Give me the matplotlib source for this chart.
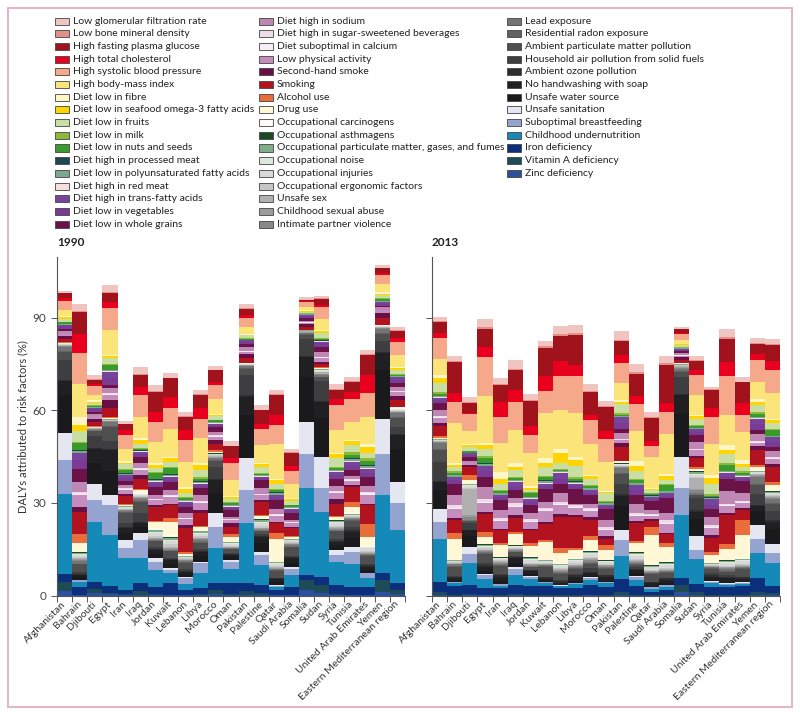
import numpy as np
import matplotlib.pyplot as plt
from matplotlib.patches import Rectangle

plt.rcParams["font.family"] = ["Lato", "DejaVu Sans"]

countries = ["Afghanistan", "Bahrain", "Djibouti", "Egypt", "Iran", "Iraq", "Jordan",
             "Kuwait", "Lebanon", "Libya", "Morocco", "Oman", "Pakistan", "Palestine",
             "Qatar", "Saudi Arabia", "Somalia", "Sudan", "Syria", "Tunisia",
             "United Arab Emirates", "Yemen", "Eastern Mediterranean region"]

# stacking order, bottom -> top
risks = ["Zinc deficiency", "Vitamin A deficiency", "Iron deficiency",
         "Childhood undernutrition", "Suboptimal breastfeeding",
         "Unsafe sanitation", "Unsafe water source", "No handwashing with soap",
         "Ambient ozone pollution", "Household air pollution from solid fuels",
         "Ambient particulate matter pollution", "Residential radon exposure", "Lead exposure",
         "Intimate partner violence", "Childhood sexual abuse", "Unsafe sex",
         "Occupational ergonomic factors", "Occupational injuries", "Occupational noise",
         "Occupational particulate matter, gases, and fumes", "Occupational asthmagens",
         "Occupational carcinogens",
         "Drug use", "Alcohol use", "Smoking", "Second-hand smoke",
         "Low physical activity", "Diet suboptimal in calcium",
         "Diet high in sugar-sweetened beverages", "Diet high in sodium",
         "Diet low in whole grains", "Diet low in vegetables", "Diet high in trans-fatty acids",
         "Diet high in red meat", "Diet low in polyunsaturated fatty acids",
         "Diet high in processed meat", "Diet low in nuts and seeds", "Diet low in milk",
         "Diet low in fruits", "Diet low in seafood omega-3 fatty acids", "Diet low in fibre",
         "High body-mass index", "High systolic blood pressure", "High total cholesterol",
         "High fasting plasma glucose", "Low bone mineral density",
         "Low glomerular filtration rate"]

colors = ["#2c4f9e", "#1d4b57", "#0b2f7a", "#1589b8", "#94a3d0",
          "#e4e6f2", "#1a1a1c", "#202022",
          "#2e2e30", "#3e3e40", "#4f4f50", "#616161", "#747474",
          "#888888", "#9c9c9c", "#b0b0b0", "#c6c6c6", "#d8d8d8", "#dde9dd",
          "#7fae86", "#1c4a24", "#fcfcf4",
          "#fff7d6", "#ea6e3c", "#b3121f", "#680f45",
          "#c58dbd", "#f6f0f6", "#f0dce8", "#bf88b4", "#6b1247", "#7a3b94", "#76459b",
          "#f9dfdc", "#7aa98c", "#1f4753", "#3b9a2c", "#8db93a", "#c8dea2", "#ffd400",
          "#fff6c8",
          "#fbe57a", "#f6a98a", "#e8001e", "#a0121c", "#e3908a", "#f0c4c0"]

# ---------------- 1990 (rows = countries, columns = risks in group, bottom -> top)
child_1990 = [
    [1.5, 3.0, 2.5, 26.0, 10.8], [0.1, 0.2, 2.6, 1.6, 0.5], [0.8, 1.3, 2.4, 19.4, 7.2],
    [0.5, 0.5, 2.0, 16.6, 9.7], [0.2, 0.3, 1.3, 10.3, 3.2], [0.3, 1.2, 2.5, 8.1, 5.9],
    [0.2, 0.2, 2.5, 5.4, 2.7], [0.1, 0.1, 3.8, 3.2, 1.1], [0.1, 0.1, 1.6, 1.9, 1.9],
    [0.1, 0.3, 2.0, 4.8, 3.3], [0.5, 1.2, 2.5, 11.1, 7.0], [0.2, 0.3, 3.5, 4.8, 2.2],
    [0.3, 1.1, 2.6, 19.4, 10.8], [0.3, 0.6, 2.5, 6.5, 3.2], [0.1, 0.1, 1.6, 0.9, 0.5],
    [0.1, 0.2, 2.6, 3.8, 2.1], [1.8, 3.3, 1.6, 28.3, 11.0], [0.8, 2.6, 2.7, 21.1, 7.5],
    [0.2, 0.3, 2.9, 7.6, 2.1], [0.1, 0.2, 2.6, 7.5, 3.8], [0.1, 0.1, 2.7, 2.7, 1.6],
    [1.3, 3.8, 2.1, 25.3, 13.3], [0.7, 1.2, 2.1, 17.2, 8.7]]
wash_1990 = [
    [9.0, 12.0, 4.8], [0.2, 0.8, 0.8], [5.2, 6.8, 4.5], [3.2, 8.0, 6.6], [2.7, 2.2, 1.6],
    [2.2, 2.0, 1.2], [1.1, 1.5, 1.2], [0.8, 1.2, 1.2], [0.5, 1.0, 0.7], [0.5, 1.8, 1.4],
    [4.3, 6.5, 4.3], [0.5, 0.9, 0.7], [10.2, 14.0, 5.9], [1.1, 3.0, 1.9], [0.2, 0.9, 1.0],
    [0.4, 1.5, 1.4], [10.3, 14.5, 6.5], [10.2, 12.5, 5.3], [1.6, 1.6, 1.1], [1.6, 2.9, 2.0],
    [0.3, 0.8, 1.1], [11.5, 15.6, 5.6], [7.0, 10.5, 4.6]]
air_1990 = [
    [0.3, 6.5, 2.5, 0.2, 1.5], [0.3, 0.5, 2.5, 0.2, 0.8], [0.2, 4.0, 1.5, 0.1, 0.2],
    [0.5, 2.5, 4.5, 0.3, 1.4], [0.3, 1.5, 3.2, 0.2, 0.5], [0.4, 3.0, 3.5, 0.3, 0.8],
    [0.3, 0.8, 1.8, 0.1, 0.2], [0.4, 0.2, 2.3, 0.2, 0.2], [0.3, 0.6, 1.8, 0.3, 0.4],
    [0.3, 0.5, 2.2, 0.3, 0.5], [0.4, 4.0, 1.8, 0.3, 0.5], [0.3, 0.3, 1.3, 0.1, 0.2],
    [0.5, 6.5, 2.2, 0.2, 0.6], [0.3, 0.6, 0.9, 0.1, 0.2], [0.3, 0.2, 2.2, 0.2, 0.3],
    [0.3, 0.3, 3.0, 0.2, 0.5], [0.3, 5.4, 1.5, 0.1, 0.3], [0.4, 6.5, 1.2, 0.1, 0.4],
    [0.4, 0.6, 2.4, 0.2, 0.4], [0.4, 1.2, 1.8, 0.3, 0.5], [0.4, 0.3, 2.8, 0.2, 0.3],
    [0.4, 3.4, 2.4, 0.3, 1.3], [0.4, 2.3, 2.8, 0.2, 1.4]]
occ_1990 = [
    [0.2, 0.1, 0.2, 0.1, 0.15, 0.05, 0.1, 0.03, 0.07],
    [0.4, 0.3, 0.3, 0.5, 0.6, 0.3, 0.4, 0.1, 0.3],
    [0.2, 0.1, 0.3, 0.1, 0.1, 0.05, 0.1, 0.02, 0.03],
    [0.1, 0.1, 0.1, 0.15, 0.2, 0.05, 0.15, 0.05, 0.1],
    [0.1, 0.2, 0.1, 0.2, 0.5, 0.1, 0.2, 0.05, 0.15],
    [0.2, 0.2, 0.2, 0.3, 0.4, 0.1, 0.2, 0.05, 0.05],
    [0.3, 0.3, 0.2, 0.6, 0.8, 0.3, 0.6, 0.2, 0.5],
    [0.3, 0.4, 0.3, 0.8, 1.0, 0.4, 0.8, 0.3, 0.5],
    [0.2, 0.2, 0.2, 0.3, 0.4, 0.1, 0.3, 0.05, 0.15],
    [0.3, 0.3, 0.2, 0.5, 0.8, 0.2, 0.5, 0.1, 0.3],
    [0.3, 0.2, 0.2, 0.3, 0.3, 0.1, 0.2, 0.05, 0.15],
    [0.2, 0.2, 0.2, 0.3, 0.6, 0.2, 0.3, 0.1, 0.1],
    [0.1, 0.1, 0.1, 0.1, 0.2, 0.05, 0.1, 0.02, 0.03],
    [0.3, 0.3, 0.2, 0.6, 1.0, 0.3, 0.6, 0.2, 0.3],
    [0.2, 0.3, 0.2, 0.4, 0.7, 0.2, 0.3, 0.1, 0.1],
    [0.2, 0.2, 0.2, 0.3, 0.6, 0.2, 0.2, 0.1, 0.1],
    [0.2, 0.1, 0.3, 0.1, 0.1, 0.05, 0.1, 0.02, 0.03],
    [0.3, 0.2, 0.5, 0.2, 0.3, 0.1, 0.3, 0.1, 0.2],
    [0.3, 0.3, 0.2, 0.5, 0.8, 0.3, 0.5, 0.1, 0.2],
    [0.2, 0.2, 0.1, 0.3, 0.4, 0.1, 0.2, 0.1, 0.1],
    [0.2, 0.3, 0.3, 0.4, 0.8, 0.2, 0.2, 0.1, 0.1],
    [0.2, 0.1, 0.3, 0.1, 0.2, 0.05, 0.1, 0.02, 0.03],
    [0.2, 0.2, 0.2, 0.2, 0.3, 0.1, 0.2, 0.05, 0.05]]
behav_1990 = [
    [0.3, 0.1, 1.2, 0.8], [2.7, 3.0, 7.2, 1.5], [0.1, 0.1, 1.4, 1.1], [0.2, 0.2, 2.9, 2.7],
    [0.4, 0.3, 2.4, 0.6], [1.0, 0.3, 3.5, 1.1], [2.0, 0.3, 4.6, 0.6], [4.3, 1.1, 4.3, 0.5],
    [0.3, 0.8, 7.6, 1.0], [1.0, 0.5, 3.9, 1.1], [0.3, 0.6, 2.1, 1.1], [1.6, 0.8, 2.4, 1.1],
    [0.1, 0.1, 1.6, 1.4], [0.9, 0.2, 4.3, 0.5], [7.5, 1.7, 3.3, 0.4], [0.4, 0.4, 2.5, 0.5],
    [0.1, 0.1, 1.0, 0.8], [0.2, 0.3, 1.1, 0.6], [0.8, 0.4, 3.8, 1.6], [2.2, 1.6, 4.8, 0.5],
    [3.0, 4.3, 5.9, 0.5], [0.2, 0.1, 2.3, 1.6], [0.3, 0.2, 2.1, 1.4]]
diet_1990 = [
    [0.6, 0.1, 0.1, 0.8, 0.8, 0.8, 0.4, 0.1, 0.3, 0.05, 0.4, 0.2, 1.0, 0.4, 0.5],
    [4.0, 0.2, 0.5, 3.5, 4.0, 3.0, 2.2, 0.2, 0.5, 0.2, 2.5, 0.3, 3.5, 2.0, 2.5],
    [0.8, 0.1, 0.1, 0.6, 0.7, 0.8, 0.3, 0.05, 0.2, 0.05, 0.5, 0.1, 0.9, 0.3, 0.4],
    [1.8, 0.2, 0.3, 1.5, 1.2, 2.2, 2.0, 0.1, 0.3, 0.1, 1.6, 0.3, 1.9, 0.9, 0.3],
    [1.5, 0.2, 0.2, 1.2, 1.3, 1.0, 0.8, 0.2, 0.3, 0.1, 1.1, 0.3, 1.5, 0.6, 0.6],
    [1.8, 0.2, 0.3, 1.5, 2.1, 1.0, 0.7, 0.1, 0.2, 0.1, 0.6, 0.3, 1.3, 1.2, 0.5],
    [1.6, 0.2, 0.3, 1.1, 2.7, 1.0, 0.7, 0.2, 0.4, 0.2, 1.9, 0.3, 1.3, 1.1, 0.5],
    [2.2, 0.3, 0.4, 1.6, 2.4, 0.9, 0.9, 0.2, 0.5, 0.2, 1.8, 0.3, 1.8, 1.2, 0.4],
    [2.0, 0.2, 0.2, 1.4, 2.2, 1.0, 0.6, 0.2, 0.3, 0.1, 0.5, 0.3, 1.3, 1.5, 0.6],
    [2.3, 0.2, 0.4, 1.9, 2.2, 0.9, 0.7, 0.2, 0.4, 0.2, 0.8, 0.4, 2.3, 1.6, 0.6],
    [1.2, 0.2, 0.2, 1.1, 1.6, 0.7, 0.4, 0.1, 0.3, 0.1, 0.6, 0.2, 1.1, 0.5, 0.3],
    [1.0, 0.2, 0.2, 0.7, 2.2, 0.6, 0.5, 0.1, 0.3, 0.1, 0.8, 0.2, 0.9, 0.7, 0.3],
    [0.7, 0.1, 0.1, 1.3, 0.8, 0.8, 0.5, 0.05, 0.15, 0.05, 0.35, 0.1, 0.9, 0.3, 0.3],
    [1.6, 0.2, 0.3, 1.7, 2.7, 0.6, 0.5, 0.1, 0.3, 0.1, 0.5, 0.3, 1.7, 1.0, 0.3],
    [2.0, 0.2, 0.4, 1.7, 2.7, 0.8, 0.8, 0.2, 0.5, 0.2, 0.8, 0.3, 1.8, 1.2, 0.4],
    [1.2, 0.2, 0.2, 0.6, 2.3, 0.7, 0.7, 0.1, 0.3, 0.1, 0.6, 0.2, 1.2, 0.6, 0.2],
    [0.5, 0.1, 0.1, 0.4, 0.9, 0.7, 0.3, 0.05, 0.1, 0.05, 0.2, 0.1, 0.5, 0.2, 0.2],
    [1.2, 0.2, 0.2, 1.6, 1.6, 1.2, 0.5, 0.1, 0.2, 0.1, 0.5, 0.3, 1.6, 0.6, 0.4],
    [2.0, 0.3, 0.3, 1.7, 2.2, 1.2, 1.2, 0.2, 0.4, 0.1, 0.6, 0.4, 2.8, 1.2, 0.5],
    [1.5, 0.3, 0.3, 1.0, 1.8, 1.5, 1.3, 0.3, 0.5, 0.2, 1.2, 1.0, 2.1, 1.2, 0.4],
    [3.0, 0.4, 0.6, 1.7, 3.0, 1.2, 1.4, 0.3, 0.7, 0.3, 1.4, 0.7, 1.8, 2.0, 1.0],
    [0.8, 0.1, 0.1, 0.9, 0.4, 0.6, 0.6, 0.05, 0.15, 0.05, 0.8, 0.2, 0.8, 0.6, 0.5],
    [1.2, 0.2, 0.2, 1.2, 1.3, 1.0, 1.0, 0.1, 0.2, 0.05, 0.5, 0.2, 1.2, 0.7, 0.3]]
metab_1990 = [
    [2.0, 2.9, 0.8, 1.6, 0.2, 0.5], [10.8, 9.9, 6.2, 7.0, 0.3, 2.3], [1.8, 2.7, 0.7, 1.5, 0.2, 1.2],
    [8.0, 7.0, 1.9, 3.1, 0.3, 2.3], [3.9, 4.3, 1.8, 1.7, 0.2, 1.0], [7.0, 7.0, 2.7, 3.7, 0.3, 2.4],
    [7.0, 6.5, 3.2, 6.5, 0.3, 1.8], [9.2, 6.5, 3.7, 6.0, 0.3, 1.5], [8.1, 7.0, 3.3, 4.3, 0.3, 1.3],
    [8.1, 6.4, 3.3, 4.3, 0.3, 1.3], [4.9, 4.3, 1.1, 3.7, 0.2, 1.1], [5.4, 5.2, 1.6, 4.0, 0.2, 1.5],
    [2.1, 3.0, 0.8, 2.2, 0.2, 1.2], [5.9, 5.4, 1.6, 4.3, 0.2, 1.4], [11.3, 6.0, 3.2, 6.7, 0.2, 1.4],
    [4.6, 4.3, 1.5, 4.3, 0.2, 1.2], [1.0, 1.8, 0.2, 0.4, 0.1, 0.9], [3.5, 4.0, 0.6, 2.0, 0.1, 0.7],
    [7.4, 8.0, 1.8, 3.2, 0.3, 1.4], [6.0, 7.5, 2.1, 3.3, 0.3, 1.3], [8.6, 7.8, 5.7, 6.5, 0.3, 1.3],
    [2.5, 3.0, 0.6, 1.6, 0.2, 1.0], [4.0, 4.3, 1.1, 2.4, 0.2, 1.1]]

# ---------------- 2013
child_2013 = [
    [0.3, 1.0, 3.2, 13.7, 5.7], [0.05, 0.05, 3.0, 0.9, 0.3], [0.1, 0.3, 3.0, 7.1, 3.0],
    [0.1, 0.2, 2.1, 2.9, 1.3], [0.05, 0.1, 2.25, 0.8, 0.5], [0.1, 0.3, 3.0, 3.3, 2.1],
    [0.05, 0.05, 3.0, 2.2, 0.9], [0.05, 0.05, 3.0, 0.9, 0.3], [0.05, 0.05, 2.3, 0.7, 0.2],
    [0.05, 0.1, 2.2, 1.5, 0.3], [0.1, 0.2, 3.1, 1.6, 0.6], [0.05, 0.05, 2.8, 1.1, 0.3],
    [0.3, 1.0, 4.0, 7.5, 5.2], [0.05, 0.1, 3.0, 2.0, 1.0], [0.05, 0.05, 1.2, 0.8, 0.6],
    [0.05, 0.05, 1.7, 0.9, 0.7], [1.3, 2.2, 2.1, 20.5, 8.9], [0.3, 0.8, 2.7, 8.0, 3.0],
    [0.05, 0.1, 2.8, 1.1, 0.5], [0.05, 0.05, 2.6, 0.8, 0.4], [0.05, 0.05, 3.0, 0.8, 0.3],
    [0.3, 0.8, 4.5, 8.1, 4.8], [0.3, 0.5, 2.3, 7.4, 3.4]]
wash_2013 = [
    [4.3, 6.0, 2.5], [0.1, 0.5, 0.8], [2.3, 3.5, 1.9], [0.3, 1.2, 1.3], [0.1, 1.0, 1.3],
    [0.5, 1.4, 1.4], [0.2, 0.7, 0.8], [0.1, 0.2, 0.8], [0.1, 0.1, 0.7], [0.1, 0.5, 1.3],
    [0.3, 0.6, 0.7], [0.1, 0.4, 1.3], [3.4, 7.5, 3.3], [0.3, 1.0, 0.9], [0.1, 0.3, 0.9],
    [0.1, 0.5, 1.1], [9.9, 14.0, 5.9], [4.5, 5.5, 2.4], [0.1, 0.5, 1.0], [0.1, 0.3, 1.3],
    [0.1, 0.2, 0.8], [4.3, 4.5, 1.6], [2.8, 5.0, 2.2]]
air_2013 = [
    [0.5, 6.0, 4.0, 0.2, 1.9], [0.5, 0.2, 3.0, 0.3, 0.4], [0.2, 2.2, 0.6, 0.1, 0.2],
    [0.6, 0.7, 2.8, 0.2, 0.5], [0.7, 0.2, 2.7, 0.3, 0.4], [0.4, 0.2, 1.5, 0.1, 0.3],
    [0.4, 0.1, 0.8, 0.2, 0.1], [0.5, 0.1, 3.2, 0.3, 0.3], [0.6, 0.3, 1.8, 0.4, 0.5],
    [0.6, 0.3, 1.6, 0.3, 0.5], [0.5, 1.4, 1.2, 0.3, 0.4], [0.6, 0.1, 2.0, 0.3, 0.3],
    [0.6, 3.5, 3.2, 0.2, 1.5], [0.4, 0.4, 0.9, 0.2, 0.2], [0.4, 0.1, 2.5, 0.2, 0.2],
    [0.6, 0.1, 1.6, 0.3, 0.2], [0.5, 5.4, 1.8, 0.1, 0.9], [0.6, 3.8, 0.9, 0.1, 0.5],
    [0.5, 0.7, 1.3, 0.2, 0.3], [0.5, 0.5, 1.2, 0.3, 0.4], [0.6, 0.1, 2.8, 0.2, 0.2],
    [0.6, 3.4, 3.0, 0.3, 2.2], [0.6, 2.8, 2.4, 0.2, 1.3]]
occ_2013 = [
    [0.3, 0.2, 0.2, 0.2, 0.2, 0.05, 0.1, 0.02, 0.03],
    [0.1, 0.2, 0.2, 0.3, 0.3, 0.1, 0.2, 0.05, 0.05],
    [1.0, 0.5, 8.5, 0.4, 0.6, 0.2, 0.3, 0.1, 0.2],
    [0.3, 0.3, 0.1, 0.4, 0.6, 0.3, 0.3, 0.1, 0.1],
    [0.2, 0.3, 0.2, 0.3, 0.5, 0.2, 0.2, 0.1, 0.1],
    [0.2, 0.2, 0.1, 0.3, 0.5, 0.1, 0.2, 0.1, 0.1],
    [0.3, 0.3, 0.2, 0.4, 0.9, 0.3, 0.4, 0.2, 0.2],
    [0.2, 0.2, 0.2, 0.3, 0.4, 0.1, 0.2, 0.05, 0.05],
    [0.2, 0.3, 0.2, 0.4, 0.7, 0.2, 0.4, 0.1, 0.2],
    [0.2, 0.3, 0.2, 0.4, 0.8, 0.2, 0.4, 0.1, 0.1],
    [0.5, 0.3, 0.3, 0.4, 0.9, 0.3, 0.6, 0.2, 0.3],
    [0.2, 0.2, 0.2, 0.3, 0.6, 0.2, 0.2, 0.1, 0.1],
    [0.3, 0.2, 0.2, 0.2, 0.3, 0.1, 0.2, 0.1, 0.1],
    [0.4, 0.4, 0.2, 0.5, 1.0, 0.4, 0.5, 0.2, 0.2],
    [0.2, 0.3, 0.2, 0.3, 0.8, 0.2, 0.3, 0.1, 0.1],
    [0.2, 0.3, 0.2, 0.4, 1.0, 0.3, 0.4, 0.2, 0.1],
    [0.3, 0.2, 0.4, 0.1, 0.2, 0.1, 0.1, 0.1, 0.1],
    [1.0, 0.5, 3.5, 0.4, 0.7, 0.2, 0.6, 0.2, 0.4],
    [0.2, 0.2, 0.1, 0.2, 0.3, 0.1, 0.2, 0.05, 0.05],
    [0.4, 0.3, 0.1, 0.4, 0.8, 0.3, 0.4, 0.2, 0.1],
    [0.2, 0.3, 0.2, 0.4, 0.9, 0.3, 0.4, 0.1, 0.1],
    [0.4, 0.2, 0.3, 0.2, 0.4, 0.1, 0.3, 0.1, 0.1],
    [0.4, 0.3, 0.4, 0.3, 0.5, 0.2, 0.4, 0.2, 0.2]]
behav_2013 = [
    [0.3, 0.8, 3.2, 1.0], [6.6, 2.0, 4.3, 0.5], [1.3, 1.4, 2.6, 0.6], [2.4, 1.6, 5.7, 0.8],
    [3.8, 0.8, 4.1, 0.5], [3.5, 0.8, 4.6, 0.8], [3.3, 0.9, 4.3, 0.5], [6.0, 0.5, 5.3, 0.5],
    [3.2, 1.6, 10.3, 0.7], [2.7, 0.6, 10.1, 0.8], [3.2, 1.3, 5.2, 0.9], [3.3, 1.6, 2.1, 0.8],
    [0.6, 0.1, 4.5, 1.2], [2.7, 0.9, 5.8, 0.6], [9.9, 2.4, 2.1, 0.4], [4.8, 1.1, 3.0, 0.5],
    [0.2, 0.1, 1.0, 0.9], [0.3, 0.8, 2.7, 0.8], [2.6, 1.1, 4.3, 1.2], [3.5, 1.7, 9.4, 0.8],
    [7.5, 5.0, 3.2, 0.5], [1.3, 0.4, 4.8, 1.5], [1.8, 0.8, 4.8, 1.0]]
diet_2013 = [
    [1.6, 0.2, 0.3, 2.1, 2.2, 1.0, 0.8, 0.1, 0.3, 0.1, 0.6, 0.7, 3.0, 1.5, 0.9],
    [3.0, 0.4, 0.8, 3.3, 3.8, 1.0, 1.0, 0.2, 0.5, 0.2, 0.6, 0.4, 1.3, 0.8, 0.7],
    [0.6, 0.1, 0.1, 0.6, 1.3, 0.7, 0.5, 0.05, 0.1, 0.05, 0.4, 0.2, 1.3, 0.5, 0.3],
    [2.8, 0.4, 0.8, 3.9, 3.4, 1.7, 1.7, 0.2, 0.6, 0.2, 1.5, 0.8, 2.4, 1.1, 0.8],
    [2.5, 0.3, 0.6, 2.6, 3.4, 0.7, 0.7, 0.2, 0.4, 0.2, 0.6, 0.4, 2.0, 1.6, 2.2],
    [2.7, 0.3, 0.8, 1.6, 2.7, 1.0, 1.7, 0.2, 0.3, 0.1, 0.5, 0.4, 2.3, 0.9, 1.3],
    [2.3, 0.3, 0.4, 2.2, 2.5, 0.8, 1.1, 0.2, 0.4, 0.2, 1.1, 0.3, 0.8, 0.6, 0.5],
    [3.5, 0.4, 0.8, 1.9, 4.0, 0.9, 1.0, 0.2, 0.6, 0.2, 1.0, 0.5, 2.7, 1.4, 1.5],
    [2.9, 0.4, 0.6, 2.9, 3.2, 1.5, 1.9, 0.2, 0.4, 0.2, 0.3, 0.3, 1.9, 3.2, 1.4],
    [2.0, 0.4, 0.6, 0.5, 4.8, 0.8, 0.8, 0.2, 0.5, 0.2, 0.8, 0.5, 3.5, 2.2, 0.8],
    [2.1, 0.3, 0.5, 1.5, 2.7, 0.8, 0.8, 0.2, 0.4, 0.2, 0.5, 0.4, 2.1, 0.7, 0.4],
    [2.0, 0.3, 0.6, 2.3, 3.4, 0.7, 0.7, 0.2, 0.4, 0.1, 0.4, 0.4, 2.3, 0.6, 0.3],
    [1.0, 0.1, 0.2, 2.2, 1.1, 2.0, 1.8, 0.1, 0.3, 0.1, 0.2, 0.7, 2.8, 0.8, 0.7],
    [1.6, 0.2, 0.6, 3.0, 2.9, 1.5, 1.7, 0.2, 0.4, 0.2, 0.8, 0.5, 2.5, 1.5, 1.7],
    [1.2, 0.2, 0.4, 1.3, 2.7, 0.7, 0.7, 0.2, 0.3, 0.1, 0.3, 0.3, 1.0, 0.4, 0.3],
    [2.8, 0.4, 0.8, 2.2, 5.1, 0.6, 0.8, 0.2, 0.5, 0.2, 1.8, 0.5, 1.1, 1.2, 0.8],
    [0.4, 0.1, 0.1, 0.6, 0.6, 0.5, 0.3, 0.05, 0.1, 0.05, 0.2, 0.1, 0.6, 0.3, 0.2],
    [1.8, 0.2, 0.4, 2.2, 2.2, 1.0, 0.8, 0.1, 0.3, 0.1, 0.6, 0.4, 2.0, 0.9, 0.4],
    [2.2, 0.3, 0.5, 2.6, 2.6, 1.4, 1.8, 0.2, 0.4, 0.1, 0.5, 0.6, 3.1, 2.1, 1.0],
    [2.0, 0.3, 0.6, 4.1, 4.0, 0.8, 1.0, 0.2, 0.4, 0.2, 1.7, 0.6, 2.9, 1.3, 1.9],
    [1.6, 0.3, 0.6, 2.4, 3.9, 0.6, 0.7, 0.2, 0.4, 0.2, 0.6, 0.4, 1.3, 1.0, 1.3],
    [1.0, 0.2, 0.2, 2.3, 1.5, 1.8, 1.8, 0.1, 0.3, 0.1, 1.1, 0.7, 2.0, 1.1, 0.8],
    [1.8, 0.3, 0.4, 1.8, 1.3, 1.6, 1.6, 0.1, 0.3, 0.1, 1.7, 0.6, 1.8, 0.8, 0.6]]
metab_2013 = [
    [5.4, 6.8, 1.6, 3.5, 0.2, 1.5], [12.9, 6.8, 3.0, 9.8, 0.4, 1.8], [4.3, 5.4, 0.5, 3.2, 0.2, 1.6],
    [15.1, 12.5, 3.5, 5.6, 0.6, 2.7], [9.2, 8.6, 4.8, 5.4, 0.4, 1.8], [10.8, 9.1, 3.8, 6.4, 0.4, 2.8],
    [10.8, 5.9, 2.7, 8.1, 0.4, 2.1], [14.8, 6.9, 5.0, 9.2, 0.4, 1.7], [12.4, 11.0, 4.9, 8.1, 0.6, 2.7],
    [14.2, 12.2, 3.3, 9.7, 0.6, 2.6], [10.2, 7.6, 1.6, 7.5, 0.5, 2.0], [9.4, 7.3, 2.5, 8.0, 0.3, 1.6],
    [5.4, 6.5, 2.5, 4.7, 0.3, 2.7], [9.9, 8.6, 2.7, 7.0, 0.5, 2.8], [10.1, 3.6, 1.6, 7.5, 0.3, 1.6],
    [13.0, 7.2, 2.9, 12.2, 0.5, 2.3], [1.2, 2.0, 0.3, 1.2, 0.1, 0.8], [6.3, 6.4, 1.6, 3.2, 0.2, 1.4],
    [9.9, 8.8, 3.0, 5.6, 0.3, 0.9], [9.7, 12.6, 4.3, 7.5, 0.6, 2.6], [9.3, 5.4, 3.8, 6.7, 0.3, 1.5],
    [5.7, 7.2, 1.9, 3.3, 0.3, 1.6], [8.3, 7.5, 3.0, 4.9, 0.3, 1.8]]

d1990 = np.hstack([np.array(g) for g in
                   (child_1990, wash_1990, air_1990, occ_1990, behav_1990, diet_1990, metab_1990)])
d2013 = np.hstack([np.array(g) for g in
                   (child_2013, wash_2013, air_2013, occ_2013, behav_2013, diet_2013, metab_2013)])

W, H = 800, 715
fig = plt.figure(figsize=(W / 100, H / 100), dpi=100)

# pink frame around the whole figure
fig.add_artist(Rectangle((8 / W, 1 - 707 / H), 784 / W, 699 / H, transform=fig.transFigure,
                         fill=False, edgecolor="#e6b3c3", linewidth=1.4))

ax1 = fig.add_axes([57 / W, 119.3 / H, 348 / W, 338.7 / H])
ax2 = fig.add_axes([432 / W, 119.3 / H, 348 / W, 338.7 / H])

x = np.arange(len(countries))
for ax, data, year in ((ax1, d1990, "1990"), (ax2, d2013, "2013")):
    bottom = np.zeros(len(countries))
    for j in range(len(risks)):
        ax.bar(x, data[:, j], width=1.0, bottom=bottom, color=colors[j], linewidth=0)
        bottom += data[:, j]
    ax.set_xlim(-0.5, len(countries) - 0.5)
    ax.set_ylim(0, 109.6)
    ax.set_yticks([0, 30, 60, 90])
    ax.set_xticks(np.arange(len(countries) + 1) - 0.5)
    ax.set_xticklabels([])
    ax.set_xticks(x, minor=True)
    ax.set_xticklabels(countries, minor=True, rotation=45, ha="right",
                       rotation_mode="anchor", va="center", fontsize=7.5, color="#333333")
    ax.tick_params(axis="x", which="minor", length=0, pad=5)
    ax.tick_params(axis="x", which="major", length=4, width=0.7, color="#555555")
    ax.tick_params(axis="y", length=4, width=0.7, color="#555555", labelsize=8.5,
                   labelcolor="#444444")
    for s in ("top", "right"):
        ax.spines[s].set_visible(False)
    for s in ("left", "bottom"):
        ax.spines[s].set_color("#555555")
        ax.spines[s].set_linewidth(0.8)
    fig.text(ax.get_position().x0, 1 - 242 / H, year, fontsize=8.5, fontweight="bold",
             va="center", ha="left", color="#222222")

ax2.set_yticklabels([])
ax1.set_ylabel("DALYs attributed to risk factors (%)", fontsize=8, color="#333333", labelpad=3)

# legend: three columns, top of stack first
legend_items = list(zip(risks, colors))[::-1]
col_rows = [17, 17, 13]
swatch_x = [55, 259, 507]
text_x = [73, 277, 525]
k = 0
for c, nrows in enumerate(col_rows):
    for r in range(nrows):
        label, col = legend_items[k]
        k += 1
        yc = 21.3 + 12.67 * r
        fig.add_artist(Rectangle((swatch_x[c] / W, 1 - (yc + 3.5) / H), 14 / W, 7 / H,
                                 transform=fig.transFigure, facecolor=col,
                                 edgecolor="#444444", linewidth=0.6))
        fig.text(text_x[c] / W, 1 - yc / H, label, fontsize=7.5, va="center", ha="left",
                 color="#222222")

fig.savefig("out.png", dpi=100)
